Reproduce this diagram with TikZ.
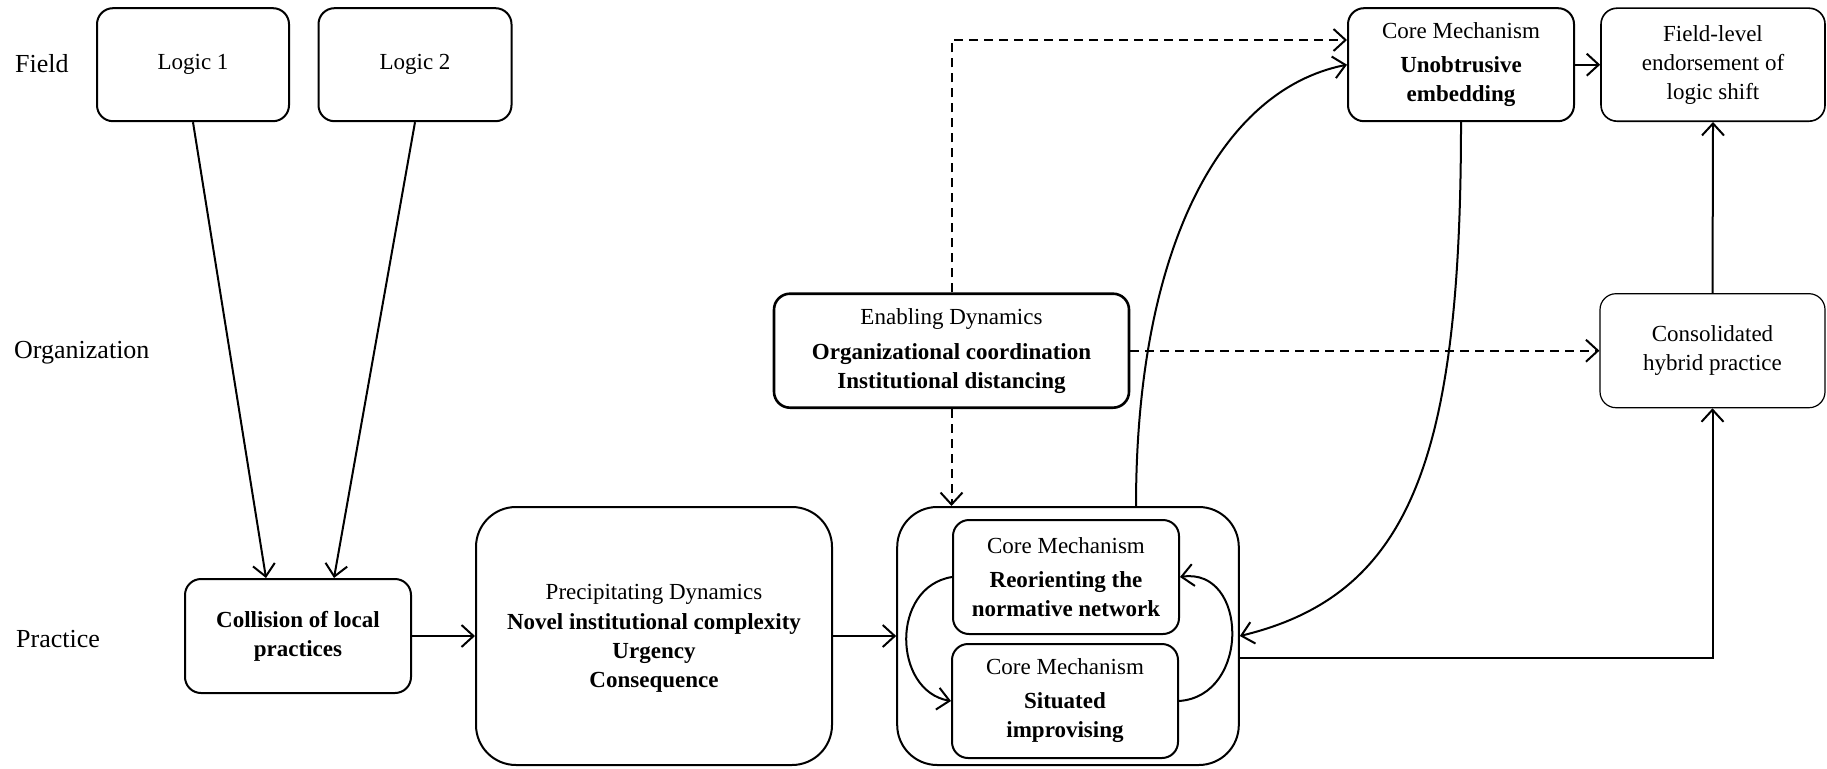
\documentclass[tikz,border=0pt]{standalone}
\usepackage{fontspec}
\setmainfont{Liberation Serif}
\usetikzlibrary{arrows.meta}
\begin{document}
\begin{tikzpicture}[x=1pt,y=-1pt,
  box/.style={draw, rounded corners=16pt, line width=2pt, align=center, inner sep=0pt,
    font=\fontsize{23}{29}\selectfont},
  bigbox/.style={box, rounded corners=40pt},
  rowlabel/.style={anchor=west, inner sep=0pt, font=\fontsize{26}{30}\selectfont},
  arr/.style={line width=2pt, -{Straight Barb[length=12pt,width=22pt,line width=2pt]}},
  darr/.style={arr, dash pattern=on 9pt off 6pt},
]
\useasboundingbox (0,0) rectangle (1827,768);

% row labels
\node[rowlabel] (lfield) at (15,64) {Field};
\node[rowlabel] (lorg) at (14,353) {Organization};
\node[rowlabel] (lprac) at (16,639) {Practice};

% boxes
\node[box, minimum width=192pt, minimum height=113pt] (log1) at (193,64.7) {Logic 1};
\node[box, minimum width=193pt, minimum height=113pt] (log2) at (415,64.7) {Logic 2};
\node[box, minimum width=226pt, minimum height=114pt] (coll) at (298,636)
  {\bfseries Collision of local\\\bfseries practices};
\node[bigbox, minimum width=356pt, minimum height=258pt, text depth=0pt] (prec) at (654,636)
  {Precipitating Dynamics\\[1pt]\bfseries Novel institutional complexity\\\bfseries Urgency\\\bfseries Consequence};
\node[box, line width=2.6pt, minimum width=355pt, minimum height=114pt] (enab) at (951.5,350.7)
  {Enabling Dynamics\\[6pt]\bfseries Organizational coordination\\\bfseries Institutional distancing};
\node[bigbox, minimum width=341.6pt, minimum height=258pt] (cont) at (1068,636) {};
\node[box, minimum width=226pt, minimum height=114pt] (reo) at (1066,577)
  {Core Mechanism\\[5pt]\bfseries Reorienting the\\\bfseries normative network};
\node[box, minimum width=226pt, minimum height=114pt] (sit) at (1065,701)
  {Core Mechanism\\[5pt]\bfseries Situated\\\bfseries improvising};
\node[box, minimum width=226pt, minimum height=113pt] (unob) at (1461,64.7)
  {Core Mechanism\\[5pt]\bfseries Unobtrusive\\\bfseries embedding};
\node[box, line width=1.6pt, minimum width=224pt, minimum height=113pt] (fiel) at (1713,64.7)
  {Field-level\\endorsement of\\logic shift};
\node[box, line width=1.2pt, minimum width=225pt, minimum height=114pt] (cons) at (1712.5,350.7)
  {Consolidated\\hybrid practice};

% connectors
\coordinate (dtop) at (0,40);
\draw[arr] (log1.south) -- ([xshift=-32pt]coll.north);
\draw[arr] (log2.south) -- ([xshift=36pt]coll.north);
\draw[arr] (coll.east) -- (prec.west);
\draw[arr] (prec.east) -- (cont.west);
\draw[arr] ([yshift=-22pt]cont.east) -| (cons.south);
\draw[arr] (cons.north) -- (fiel.south);
\draw[arr] (unob.east) -- (fiel.west);
\draw[arr] ([xshift=68pt]cont.north) .. controls (1136,250) and (1220,90) .. (unob.west);
\draw[arr] (unob.south) .. controls (1461,460) and (1410,595) .. (cont.east);
\draw[darr] (enab.north) -- (enab.north |- dtop) -- (unob.west |- dtop);
\draw[darr] (enab.east) -- (cons.west);
\draw[darr] (enab.south) -- (enab.south |- cont.north);
\draw[arr] (reo.west) .. controls +(-62,10) and +(-58,-10) .. (sit.west);
\draw[arr] (sit.east) .. controls +(72,-5) and +(68,-10) .. (reo.east);
\end{tikzpicture}
\end{document}
